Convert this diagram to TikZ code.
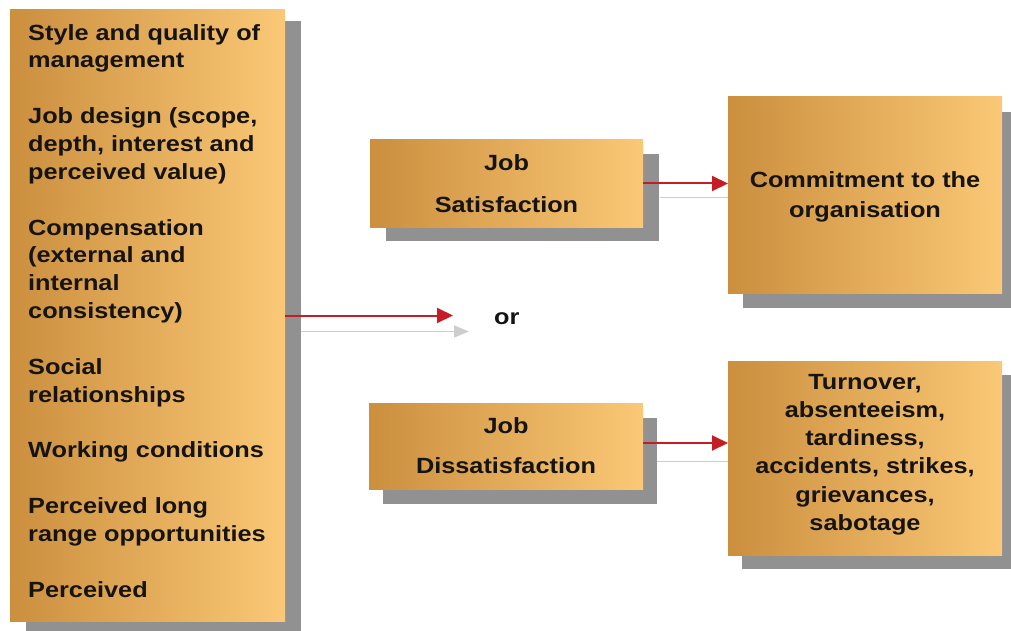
\documentclass[tikz,border=0pt]{standalone}
\usepackage{fontspec}
\setmainfont{Liberation Sans}[FakeStretch=1.15]
\usetikzlibrary{shadows,arrows.meta,calc}
\definecolor{goldL}{RGB}{203,143,62}
\definecolor{goldR}{RGB}{250,200,118}
\definecolor{shadowgray}{RGB}{145,145,145}
\definecolor{arrowred}{RGB}{196,30,36}
\definecolor{faint}{RGB}{205,205,205}
\definecolor{ink}{RGB}{22,20,18}
\begin{document}
\begin{tikzpicture}[x=1pt,y=-1pt,
  goldbox/.style={rectangle, inner sep=0pt, outer sep=0pt, left color=goldL, right color=goldR, anchor=north west},
  boxshadow/.style 2 args={drop shadow={shadow xshift=#1pt, shadow yshift=-#2pt, fill=shadowgray, opacity=1}},
  boxtext/.style={inner sep=0pt, align=center, text=ink, font=\bfseries\fontsize{22}{#1}\selectfont},
  lefttext/.style={inner sep=0pt, align=left, text=ink, font=\bfseries\fontsize{22}{27.85}\selectfont},
  redarrow/.style={draw=arrowred, line width=2pt, -{Triangle[length=16pt,width=15pt]}},
  grayarrow/.style={draw=faint, line width=1.2pt, -{Triangle[length=15pt,width=12pt]}},
  faintline/.style={draw=faint, line width=1pt}
]
\useasboundingbox (0,0) rectangle (1011,631);
\clip (0,0) rectangle (1011,631);

% boxes
\node[goldbox, boxshadow={16}{11}, minimum width=275pt, minimum height=611pt] (factors) at (10,10) {};
\node[goldbox, boxshadow={16}{14}, minimum width=273pt, minimum height=87pt] (sat) at (370,140) {};
\node[goldbox, boxshadow={15}{15}, minimum width=274pt, minimum height=196pt] (comm) at (728,97) {};
\node[goldbox, boxshadow={14}{15}, minimum width=274pt, minimum height=86pt] (dis) at (369,403) {};
\node[goldbox, boxshadow={14}{14}, minimum width=274pt, minimum height=194pt] (turn) at (728,361) {};

% texts
\node[lefttext, anchor=north west] (factorstext) at (28,24) {Style and quality of\\ management\\[27.85pt] Job design (scope,\\ depth, interest and\\ perceived value)\\[27.85pt] Compensation\\ (external and\\ internal\\ consistency)\\[27.85pt] Social\\ relationships\\[27.85pt] Working conditions\\[27.85pt] Perceived long\\ range opportunities\\[27.85pt] Perceived};
\node[boxtext=42] (sattext) at (sat.center) {Job\\ Satisfaction};
\node[boxtext=40] (distext) at (dis.center) {Job\\ Dissatisfaction};
\node[boxtext=30, yshift=-2pt] (commtext) at (comm.center) {Commitment to the\\ organisation};
\node[boxtext=28.2, yshift=3.5pt] (turntext) at (turn.center) {Turnover,\\ absenteeism,\\ tardiness,\\ accidents, strikes,\\ grievances,\\ sabotage};
\node[inner sep=0pt, text=ink, font=\bfseries\fontsize{22}{26}\selectfont, anchor=base west] (ortext) at (494,324) {or};

% connectors
\coordinate (orred) at ($(ortext.west)+(-41,0)$);
\coordinate (grayfrom) at ($(factors.east)+(16,16)$);
\coordinate (grayto) at ($(ortext.west)+(-25,16)$);
\draw[faintline] ($(sat.east)+(17,14)$) -- ($(sat.east -| comm.west)+(0,14)$);
\draw[faintline] ($(dis.east)+(14,15)$) -- ($(dis.east -| turn.west)+(0,15)$);
\draw[grayarrow] (grayfrom) -- (grayto |- grayfrom);
\draw[redarrow] (factors.east) -- (orred |- factors.east);
\draw[redarrow] (sat.east) -- (sat.east -| comm.west);
\draw[redarrow] ([yshift=3pt]dis.east) -- ([yshift=3pt]dis.east -| turn.west);
\end{tikzpicture}
\end{document}
